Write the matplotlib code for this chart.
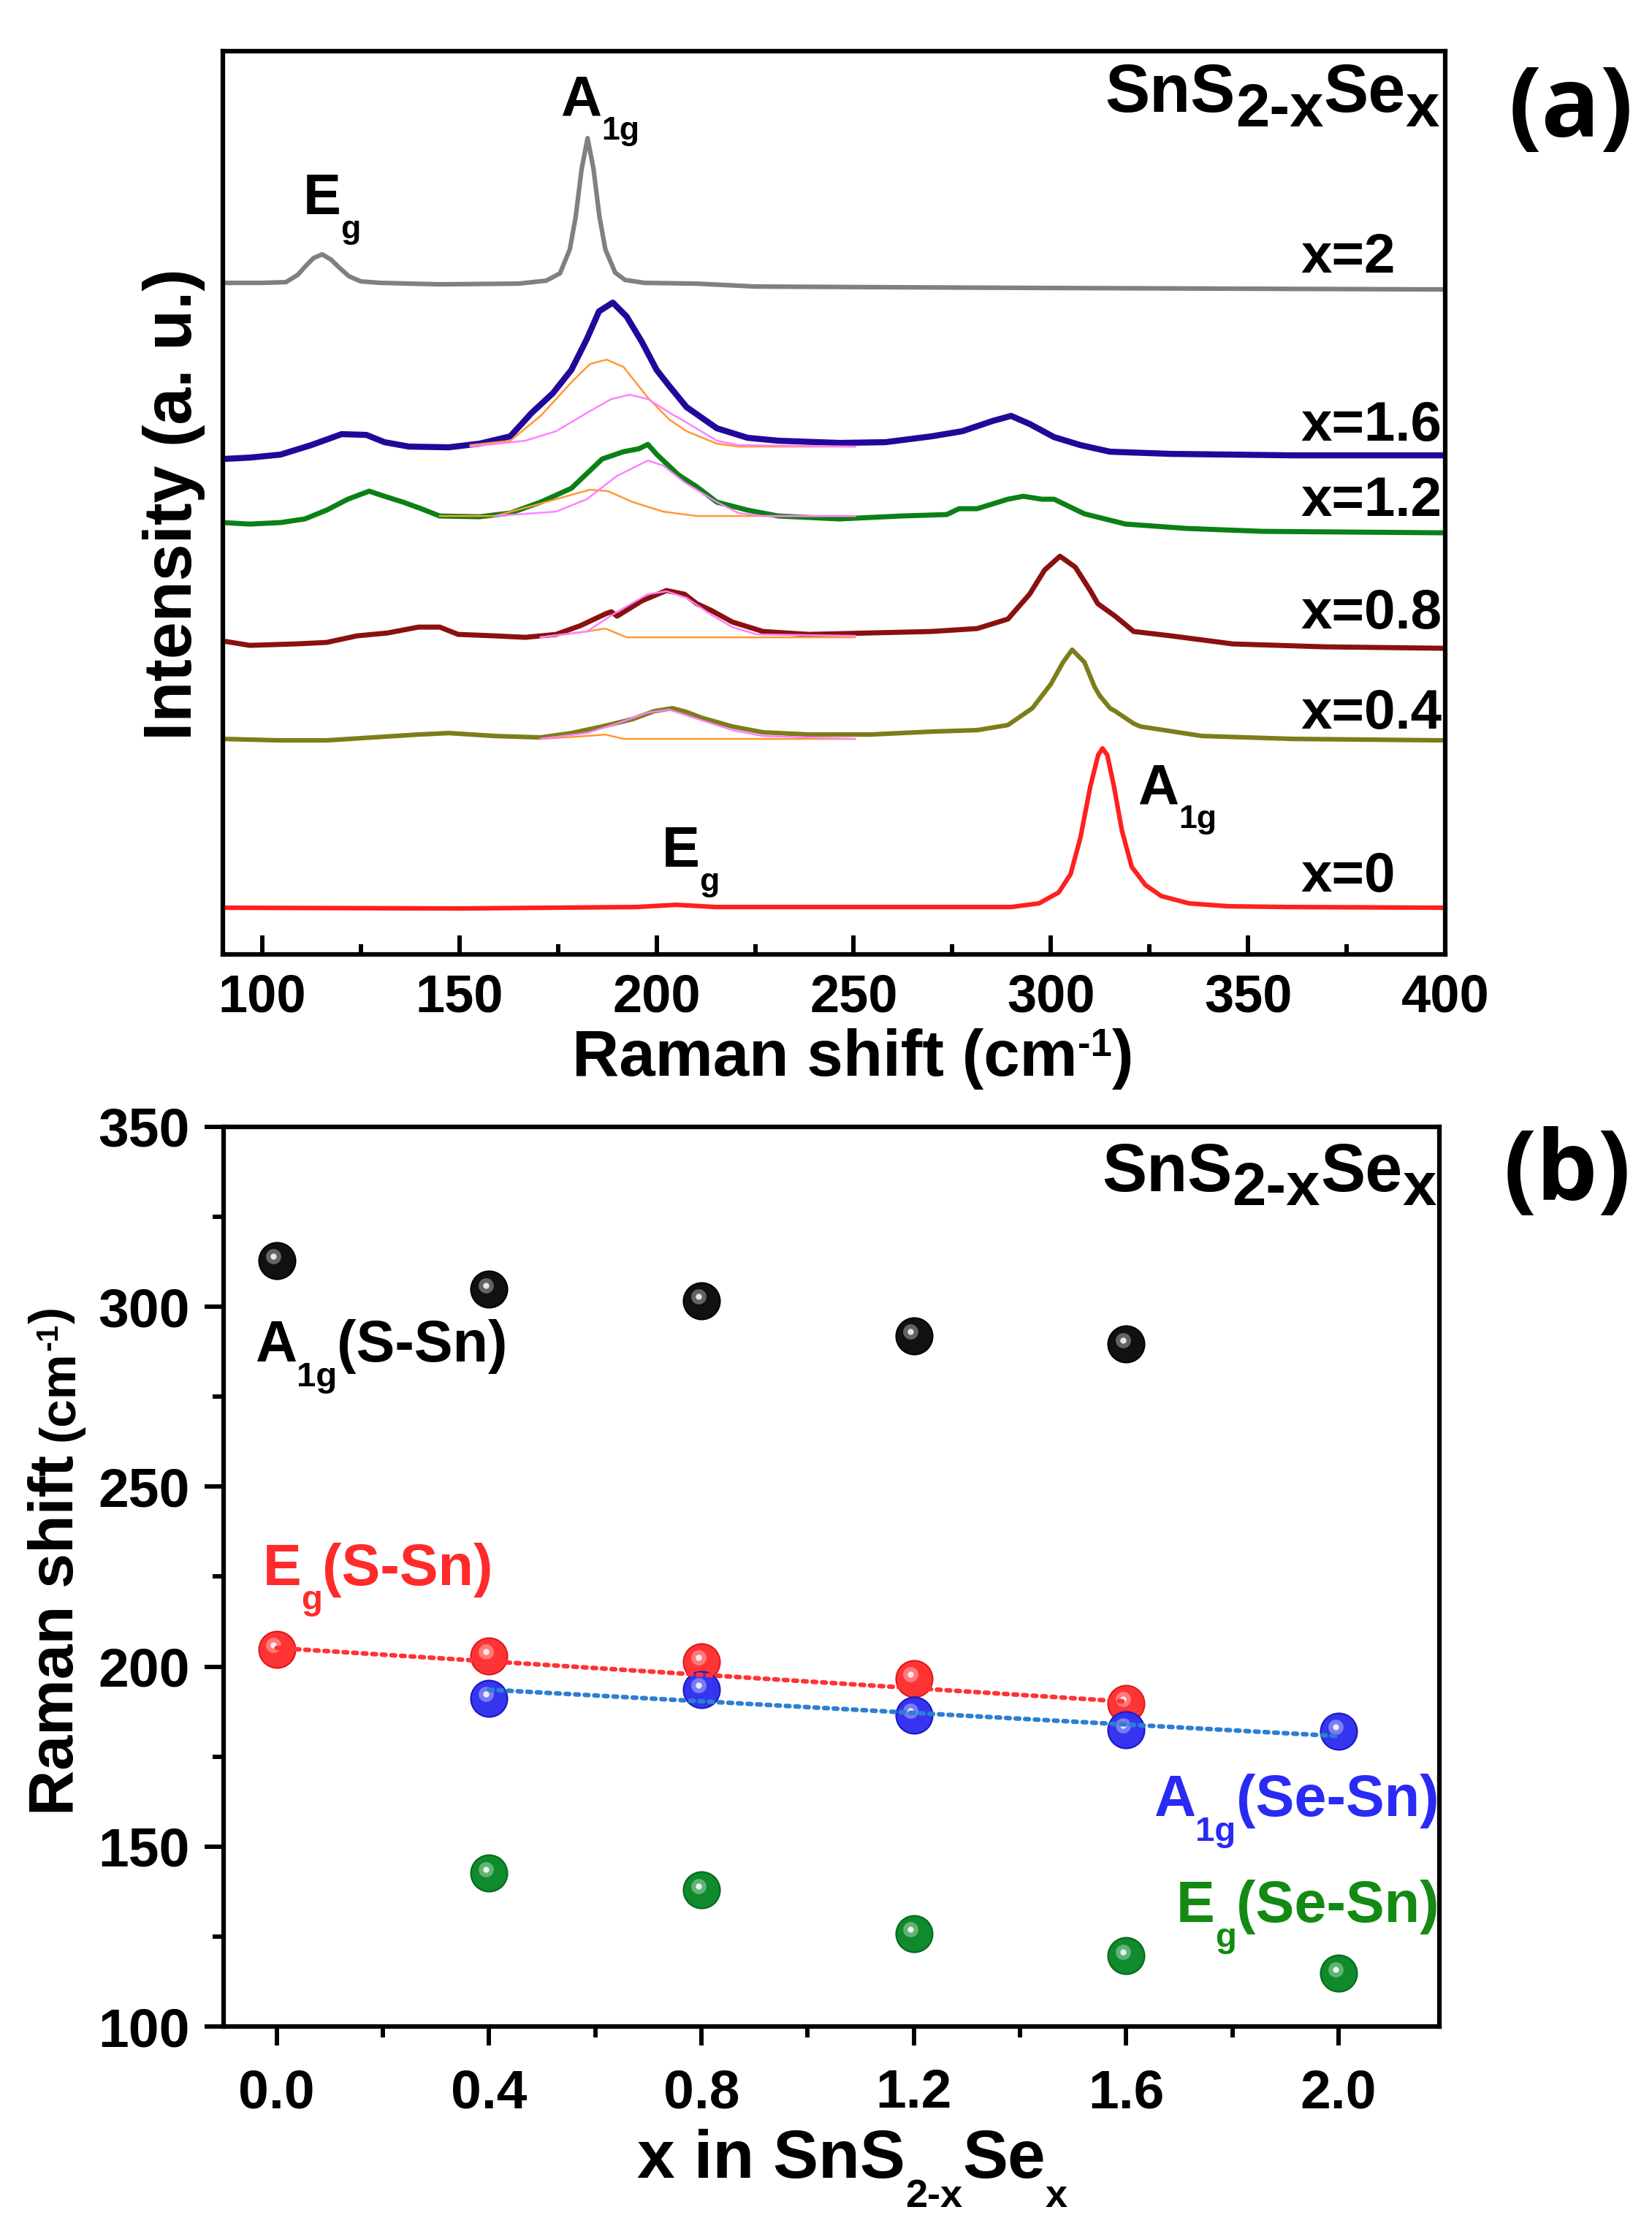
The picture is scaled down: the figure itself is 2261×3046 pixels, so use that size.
import numpy as np
import matplotlib
matplotlib.use('Agg')
from matplotlib import pyplot as plt
from matplotlib import transforms as mtransforms
from matplotlib.ticker import MultipleLocator, FormatStrFormatter

plt.rcParams['font.family'] = ['Liberation Sans', 'DejaVu Sans']
plt.rcParams['font.weight'] = 'bold'
plt.rcParams['mathtext.fontset'] = 'custom'
plt.rcParams['mathtext.rm'] = 'Liberation Sans:bold'
plt.rcParams['mathtext.bf'] = 'Liberation Sans:bold'
plt.rcParams['mathtext.it'] = 'Liberation Sans:bold'
plt.rcParams['mathtext.default'] = 'bf'

# ---- panel (a): Raman spectra, shift in cm-1, intensity in arbitrary units (stacked)
shift_x2 = [90, 100, 106, 109, 111, 113, 115.2, 117.4, 119.5, 122, 125, 130, 145, 165, 172, 175.5,
            178, 179.5, 181, 182.5, 184, 185.5, 187, 189.5, 192, 197, 210, 225, 260, 300, 350, 400]
int_x2 = [91.9, 91.9, 92.0, 93.0, 94.2, 95.3, 95.8, 95.1, 94.0, 92.8, 92.1, 91.9, 91.7, 91.8, 92.2, 93.2,
          96.5, 101.0, 107.5, 111.7, 107.5, 101.0, 96.5, 93.3, 92.3, 91.9, 91.8, 91.4, 91.3, 91.2, 91.1, 91.0]

shift_x16 = [90, 97, 104.6, 112.4, 120.1, 126.4, 131, 137.2, 147.3, 155.1, 162.9, 168.3, 173.7, 178.4,
             182.3, 185.4, 188.9, 192.4, 196.3, 200, 202.9, 207.6, 215.3, 223.1, 230.9, 246.4, 258,
             269.7, 277.5, 285.2, 289.9, 294.6, 300.8, 307.5, 315, 330.5, 361.6, 400]
int_x16 = [67.8, 68.0, 68.4, 69.7, 71.2, 71.1, 70.1, 69.5, 69.4, 69.9, 70.9, 74.1, 76.8, 80.0,
           84.2, 88.0, 89.2, 87.3, 83.8, 80.0, 78.0, 74.9, 72.0, 70.7, 70.3, 70.0, 70.1,
           70.9, 71.6, 73.0, 73.7, 72.6, 70.8, 69.7, 68.8, 68.5, 68.3, 68.3]

shift_x12 = [90, 96.8, 104.6, 110.8, 116.3, 121.7, 127.1, 131, 135.7, 140.3, 145, 155.1, 162.9, 170.6,
             178.4, 186.2, 191.6, 195.5, 197.8, 200.1, 205.6, 210.2, 215.3, 223.1, 230.9, 246.4, 262,
             273.6, 276.7, 281.3, 289.1, 293, 297.7, 300.8, 308.5, 318.9, 334.4, 353.8, 400]
int_x12 = [59.1, 58.9, 59.1, 59.6, 60.8, 62.3, 63.4, 62.7, 61.9, 61.0, 60.0, 59.9, 60.4, 61.9,
           63.8, 67.8, 68.8, 69.2, 69.8, 68.4, 65.6, 64.0, 61.9, 60.8, 60.0, 59.6, 60.0,
           60.2, 61.0, 61.0, 62.3, 62.7, 62.3, 62.3, 60.3, 58.9, 58.3, 57.9, 57.7]

shift_x08 = [90, 96.8, 108.5, 116.3, 124, 131.8, 139.6, 145, 149.7, 159, 166.7, 174.5, 180.7, 187,
             188.5, 190, 196.3, 202.5, 207.1, 210.2, 213.8, 219.2, 227, 238.6, 254.2, 269.7, 281.3,
             289.1, 294.6, 298.4, 302.3, 306.2, 310.1, 311.9, 316.3, 321, 330.5, 346.1, 369.4, 400]
int_x08 = [42.9, 42.3, 42.5, 42.7, 43.6, 44.0, 44.8, 44.8, 43.8, 43.6, 43.4, 43.8, 45.0, 46.6,
           46.9, 46.3, 48.4, 49.8, 49.3, 48.0, 47.1, 45.5, 44.2, 43.8, 44.0, 44.2, 44.6,
           45.9, 49.3, 52.6, 54.5, 53.0, 49.7, 48.0, 46.3, 44.2, 43.6, 42.5, 42.1, 41.9]

shift_x04 = [90, 104.6, 116.3, 127.9, 139.6, 147.3, 159, 170.6, 178.4, 186.2, 193.9, 199.4, 204, 207.5,
             211.4, 219.2, 227, 238.6, 254.2, 269.7, 281.3, 289.1, 295.3, 300, 303.1, 305.4, 308.5,
             311.1, 312.4, 315, 316.3, 321, 322.7, 338.3, 361.6, 400]
int_x04 = [29.5, 29.3, 29.3, 29.7, 30.1, 30.3, 29.9, 29.7, 30.3, 31.2, 32.2, 33.3, 33.7, 33.2,
           32.4, 31.2, 30.4, 30.1, 30.1, 30.5, 30.7, 31.4, 33.7, 37.0, 40.0, 41.7, 40.0,
           36.6, 35.4, 33.7, 33.3, 31.6, 31.2, 29.9, 29.5, 29.3]

shift_x0 = [90, 150, 195, 205, 215, 290, 297, 302, 305, 307.5, 310, 312, 313.1, 314.3, 316, 318,
            320.5, 324, 328, 335, 345, 360, 400]
int_x0 = [6.4, 6.3, 6.5, 6.8, 6.5, 6.5, 7.0, 8.5, 11.0, 16.0, 23.0, 27.3, 28.2, 27.3, 23.0, 17.0,
          12.0, 9.5, 8.0, 7.0, 6.6, 6.5, 6.4]

# fitted components (orange and pink thin lines)
fit_o_x16 = [152.8, 162.9, 170.6, 178.4, 183.1, 187.3, 191.6, 197.8, 203.2, 207.6, 215.3, 220.8, 250.3]
fit_o_y16 = [69.7, 70.3, 73.7, 78.3, 80.8, 81.4, 80.4, 76.2, 73.2, 71.6, 69.9, 69.5, 69.5]
fit_p_x16 = [152.8, 166.7, 174.5, 182.3, 188.5, 193.2, 197.8, 204.0, 207.6, 215.3, 220.8, 250.3]
fit_p_y16 = [69.5, 70.3, 71.6, 74.1, 76.0, 76.6, 76.0, 73.9, 72.8, 70.3, 69.7, 69.5]

fit_o_x12 = [145, 159, 170.6, 178.4, 183.1, 187.7, 194, 201.7, 210.2, 250.3]
fit_o_y12 = [60.0, 60.0, 61.7, 62.9, 63.6, 63.4, 61.9, 60.6, 60.0, 60.0]
fit_p_x12 = [159, 174.5, 182.3, 190, 197.8, 201.7, 207.1, 215.3, 220.8, 227, 250.3]
fit_p_y12 = [60.0, 60.6, 62.3, 65.5, 67.6, 66.9, 64.6, 61.9, 60.4, 60.0, 60.0]

fit_o_x08 = [170.6, 182.3, 187, 192.4, 250.3]
fit_o_y08 = [43.4, 44.2, 44.6, 43.4, 43.4]
fit_p_x08 = [170.6, 182.3, 190, 197.8, 202.5, 207.6, 213.8, 219.2, 225.4, 250.3]
fit_p_y08 = [43.4, 44.2, 46.9, 49.3, 49.7, 48.8, 46.5, 44.8, 43.8, 43.6]

fit_o_x04 = [170.6, 182.3, 187, 191.6, 250.3]
fit_o_y04 = [29.5, 29.9, 30.1, 29.5, 29.5]
fit_p_x04 = [170.6, 182.3, 190, 197.8, 203.2, 209.4, 219.2, 227, 250.3]
fit_p_y04 = [29.5, 30.3, 31.6, 33.1, 33.5, 32.4, 30.7, 29.9, 29.5]

spec_labels = ['x=2', 'x=1.6', 'x=1.2', 'x=0.8', 'x=0.4', 'x=0']
spec_label_y = [93.3, 70.3, 60.0, 44.6, 30.9, 8.6]

# ---- panel (b): peak positions vs composition
x_comp = [0.0, 0.4, 0.8, 1.2, 1.6, 2.0]
a1g_s_sn = [312.9, 304.8, 301.7, 292.0, 289.6]
eg_s_sn = [204.8, 203.0, 201.4, 196.7, 189.8]
a1g_se_sn = [191.2, 193.7, 186.6, 182.5, 182.1]
eg_se_sn = [142.6, 137.9, 125.9, 119.7, 114.8]
# dotted trend lines (end points)
trend_s_x = [0.0, 1.6]
trend_s_y = [205.2, 190.3]
trend_se_x = [0.4, 2.0]
trend_se_y = [193.6, 180.7]

DESC = 0.21


def chain_text(ax, x, y, parts, ha='left', color='k', xycoords='data'):
    # parts: (text, fontsize, baseline rise in points); pieces are glued one after another
    seq = parts if ha == 'left' else parts[::-1]
    prev = None
    for text, size, rise in seq:
        if prev is None:
            prev = ax.annotate(text, xy=(x, y), xycoords=xycoords, xytext=(0, rise),
                               textcoords='offset points', ha=ha, va='baseline',
                               fontsize=size, color=color, annotation_clip=False)
        else:
            off = (rise - prev_rise) + DESC * (prev_size - size)
            anchor = (1, 0) if ha == 'left' else (0, 0)
            prev = ax.annotate(text, xy=anchor, xycoords=prev, xytext=(0, off),
                               textcoords='offset points', ha=ha, va='bottom',
                               fontsize=size, color=color, annotation_clip=False)
        prev_size, prev_rise = size, rise
    return prev


fig = plt.figure(figsize=(22.61, 30.46), dpi=100)

# ================= panel (a)
ax1 = fig.add_axes([0.1349, 0.5712, 0.7399, 0.4058])
ax1.plot(shift_x2, int_x2, color='#808080', lw=4.5)
ax1.plot(shift_x16, int_x16, color='#22089A', lw=6)
ax1.plot(shift_x12, int_x12, color='#0B8016', lw=5)
ax1.plot(shift_x08, int_x08, color='#8B1010', lw=5)
ax1.plot(shift_x04, int_x04, color='#7D7D1B', lw=4.5)
ax1.plot(shift_x0, int_x0, color='#FF2020', lw=4.5)

for fx, fy in [(fit_o_x16, fit_o_y16), (fit_o_x12, fit_o_y12), (fit_o_x08, fit_o_y08), (fit_o_x04, fit_o_y04)]:
    ax1.plot(fx, fy, color='#FF9933', lw=1.8)
for fx, fy in [(fit_p_x16, fit_p_y16), (fit_p_x12, fit_p_y12), (fit_p_x08, fit_p_y08), (fit_p_x04, fit_p_y04)]:
    ax1.plot(fx, fy, color='#FF80FF', lw=1.8)

ax1.set_xlim(90, 400)
ax1.set_ylim(0, 123.6)
ax1.xaxis.set_major_locator(MultipleLocator(50))
ax1.xaxis.set_minor_locator(MultipleLocator(25))
ax1.tick_params(axis='x', which='both', direction='in', top=False, width=4.3, labelsize=52, pad=18)
ax1.tick_params(axis='x', which='major', length=19)
ax1.tick_params(axis='x', which='minor', length=10)
ax1.tick_params(axis='y', which='both', left=False, right=False, labelleft=False)
for sp in ax1.spines.values():
    sp.set_linewidth(4.5)

for lab, ly in zip(spec_labels, spec_label_y):
    ax1.text(363.5, ly, lab, ha='left', va='baseline', fontsize=55)

chain_text(ax1, 175.6, 114.8, [('A', 56, 0), ('1g', 32, -24)])
chain_text(ax1, 110.3, 101.3, [('E', 56, 0), ('g', 32, -24)])
chain_text(ax1, 322, 20.6, [('A', 56, 0), ('1g', 32, -24)])
chain_text(ax1, 201.3, 12.0, [('E', 56, 0), ('g', 32, -24)])
chain_text(ax1, 398.5, 115.3, [('SnS', 66, 0), ('2-x', 60, -14), ('Se', 66, 0), ('x', 60, -14)], ha='right')

chain_text(ax1, 0.3463, 0.5167, [('Raman shift (cm', 64, 0), ('-1', 38, 20), (')', 64, 0)],
           xycoords='figure fraction')
fig.text(0.1159, 0.7735, 'Intensity (a. u.)', rotation=90, rotation_mode='anchor',
         ha='center', va='baseline', fontsize=66, fontweight='heavy')
fig.text(0.951, 0.95, '(a)', ha='center', va='center', fontsize=96,
         family=['Open Sans', 'DejaVu Sans'], fontweight='bold')

# ================= panel (b)
ax2 = fig.add_axes([0.1353, 0.0896, 0.7360, 0.4042])


def balls(ax, xs, ys, color, edge):
    ax.plot(xs, ys, 'o', ms=36, mfc=color, mec=edge, mew=1.5, zorder=3)
    shifted = mtransforms.offset_copy(ax.transData, fig=ax.figure, x=-3, y=4, units='points')
    ax.plot(xs, ys, 'o', ms=15, mfc='white', mec='none', alpha=0.35, transform=shifted, zorder=4)
    ax.plot(xs, ys, 'o', ms=6, mfc='white', mec='none', alpha=0.85, transform=shifted, zorder=4)


balls(ax2, x_comp[:5], a1g_s_sn, '#111111', '#000000')
balls(ax2, x_comp[:5], eg_s_sn, '#FF3535', '#E01818')
balls(ax2, x_comp[1:], a1g_se_sn, '#3535F0', '#1818C8')
balls(ax2, x_comp[1:], eg_se_sn, '#0F8A2C', '#066A1C')

ax2.plot(trend_s_x, trend_s_y, color='#FF3333', lw=4.5, ls=(0, (0.8, 1.3)),
         dash_capstyle='round', zorder=5)
ax2.plot(trend_se_x, trend_se_y, color='#2E7FD0', lw=4.5, ls=(0, (0.8, 1.3)),
         dash_capstyle='round', zorder=5)

ax2.set_xlim(-0.1, 2.19)
ax2.set_ylim(100, 350)
ax2.xaxis.set_major_locator(MultipleLocator(0.4))
ax2.xaxis.set_minor_locator(MultipleLocator(0.2))
ax2.xaxis.set_major_formatter(FormatStrFormatter('%.1f'))
ax2.yaxis.set_major_locator(MultipleLocator(50))
ax2.yaxis.set_minor_locator(MultipleLocator(25))
ax2.tick_params(which='both', direction='out', top=False, right=False, width=4.3, labelsize=54)
ax2.tick_params(which='major', length=19)
ax2.tick_params(which='minor', length=11)
ax2.tick_params(axis='y', pad=14)
ax2.tick_params(axis='x', pad=22)
for sp in ax2.spines.values():
    sp.set_linewidth(4.5)

chain_text(ax2, -0.041, 284.8, [('A', 57, 0), ('1g', 34, -24), ('(S-Sn)', 57, 0)])
chain_text(ax2, -0.026, 222.7, [('E', 57, 0), ('g', 34, -24), ('(S-Sn)', 57, 0)], color='#FF2A2A')
chain_text(ax2, 2.189, 158.5, [('A', 57, 0), ('1g', 34, -24), ('(Se-Sn)', 57, 0)], ha='right', color='#2A2AF5')
chain_text(ax2, 2.189, 129.0, [('E', 57, 0), ('g', 34, -24), ('(Se-Sn)', 57, 0)], ha='right', color='#138A13')
chain_text(ax2, 2.184, 332.1, [('SnS', 66, 0), ('2-x', 60, -14), ('Se', 66, 0), ('x', 60, -14)], ha='right')

chain_text(ax2, 0.3857, 0.0217, [('x in SnS', 67, 0), ('2-x', 39, -29), ('Se', 67, 0), ('x', 39, -29)],
           xycoords='figure fraction')

# y label: "Raman shift" followed by smaller "(cm-1)"
ylab = fig.text(0.0442, 0.1845, 'Raman shift', rotation=90, rotation_mode='anchor',
                ha='left', va='baseline', fontsize=62)
unit = ax2.annotate('(cm', xy=(1, 1), xycoords=ylab, xytext=(-DESC * 12, 14),
                    textcoords='offset points', rotation=90, ha='right', va='bottom',
                    fontsize=50, annotation_clip=False)
sup = ax2.annotate('-1', xy=(1, 1), xycoords=unit, xytext=(-(15 + DESC * 20), 0),
                   textcoords='offset points', rotation=90, ha='right', va='bottom',
                   fontsize=30, annotation_clip=False)
ax2.annotate(')', xy=(1, 1), xycoords=sup, xytext=(15 - DESC * 20, 0),
             textcoords='offset points', rotation=90, ha='right', va='bottom',
             fontsize=50, annotation_clip=False)

fig.text(0.9487, 0.4724, '(b)', ha='center', va='center', fontsize=96,
         family=['Open Sans', 'DejaVu Sans'], fontweight='bold')

fig.savefig('out.png', dpi=100)
